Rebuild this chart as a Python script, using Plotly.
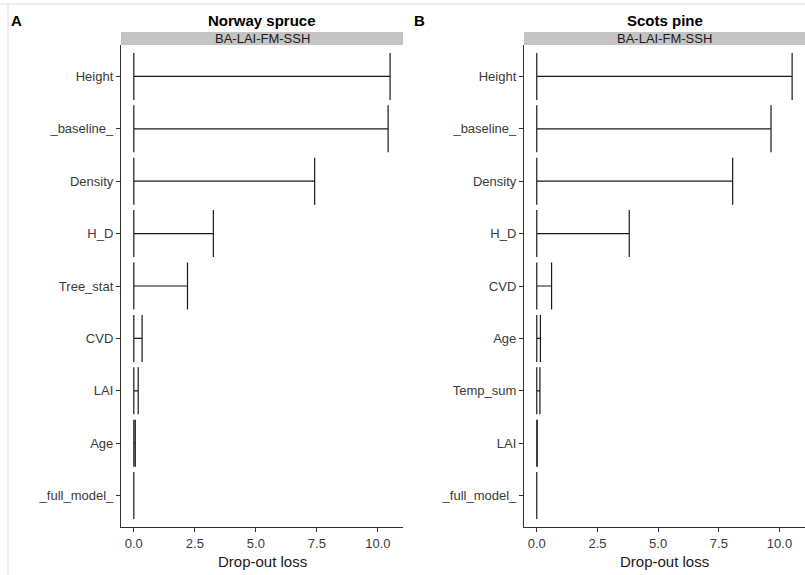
import plotly.graph_objects as go

W, H = 805, 575

# ---- data ----
spruce_vars = ["Height", "_baseline_", "Density", "H_D", "Tree_stat", "CVD", "LAI", "Age", "_full_model_"]
spruce_loss = [10.50, 10.42, 7.41, 3.26, 2.20, 0.34, 0.18, 0.06, 0.0]

pine_vars = ["Height", "_baseline_", "Density", "H_D", "CVD", "Age", "Temp_sum", "LAI", "_full_model_"]
pine_loss = [10.52, 9.65, 8.07, 3.81, 0.61, 0.15, 0.13, 0.02, 0.0]

panel_titles = ["Norway spruce", "Scots pine"]
panel_tags = ["A", "B"]
strip_label = "BA-LAI-FM-SSH"
x_ticks = [0.0, 2.5, 5.0, 7.5, 10.0]
x_title = "Drop-out loss"


def px_x(x):
    return x / W


def px_y(y):
    return 1 - y / H


fig = go.Figure()

panels = [
    dict(vars=spruce_vars, loss=spruce_loss, xa="x", ya="y", dom=(121, 403), xr=[-0.525, 11.03]),
    dict(vars=pine_vars, loss=pine_loss, xa="x2", ya="y2", dom=(524, 805), xr=[-0.526, 11.05]),
]

ydom = [px_y(527), px_y(45)]
line_col = "#1a1a1a"
txt_col = "#3a3a3a"
font_family = "Liberation Sans, Arial, sans-serif"

for i, p in enumerate(panels):
    fig.add_trace(go.Scatter(
        x=[0] * len(p["loss"]),
        y=p["vars"],
        mode="markers",
        marker=dict(size=1, color="rgba(0,0,0,0)"),
        error_x=dict(type="data", array=p["loss"], arrayminus=[0] * len(p["loss"]),
                     symmetric=False, color=line_col, thickness=1.2, width=23.5),
        xaxis=p["xa"], yaxis=p["ya"], showlegend=False, hoverinfo="skip",
    ))

    xkey = "xaxis" if i == 0 else "xaxis2"
    ykey = "yaxis" if i == 0 else "yaxis2"
    fig.update_layout(**{
        xkey: dict(
            domain=[px_x(p["dom"][0]), px_x(p["dom"][1])],
            range=p["xr"], tickvals=x_ticks, ticktext=[f"{v:.1f}" for v in x_ticks],
            showgrid=False, zeroline=False, showline=True, linecolor="#333333", linewidth=1.2,
            ticks="outside", ticklen=4, tickcolor="#333333", tickwidth=1.1,
            tickfont=dict(size=13, color=txt_col, family=font_family),
            anchor=p["ya"], automargin=False,
        ),
        ykey: dict(
            domain=ydom, type="category",
            categoryorder="array", categoryarray=list(reversed(p["vars"])),
            range=[-0.6, len(p["vars"]) - 0.4],
            showgrid=False, zeroline=False, showline=True, linecolor="#333333", linewidth=1.2,
            ticks="outside", ticklen=4, tickcolor="#333333", tickwidth=1.1,
            tickfont=dict(size=13, color=txt_col, family=font_family),
            anchor=p["xa"], automargin=False,
        ),
    })

    x0, x1 = px_x(p["dom"][0]), px_x(p["dom"][1])
    # strip
    fig.add_shape(type="rect", xref="paper", yref="paper", x0=x0, x1=x1,
                  y0=px_y(45), y1=px_y(32), fillcolor="#c4c4c4", line=dict(width=0), layer="below")
    fig.add_annotation(xref="paper", yref="paper", x=(x0 + x1) / 2, y=px_y(38.5),
                       text=strip_label, showarrow=False, xanchor="center", yanchor="middle",
                       font=dict(size=13, color="#1a1a1a", family=font_family))
    # panel title
    fig.add_annotation(xref="paper", yref="paper", x=(x0 + x1) / 2, y=px_y(20),
                       text=f"<b>{panel_titles[i]}</b>", showarrow=False, xanchor="center", yanchor="middle",
                       font=dict(size=15, color="#000000", family=font_family))
    # x-axis title
    fig.add_annotation(xref="paper", yref="paper", x=(x0 + x1) / 2, y=px_y(561),
                       text=x_title, showarrow=False, xanchor="center", yanchor="middle",
                       font=dict(size=15, color="#1a1a1a", family=font_family))

# panel tags
fig.add_annotation(xref="paper", yref="paper", x=px_x(9), y=px_y(21), text="<b>A</b>",
                   showarrow=False, xanchor="left", yanchor="middle",
                   font=dict(size=15, color="#000000", family=font_family))
fig.add_annotation(xref="paper", yref="paper", x=px_x(412), y=px_y(21), text="<b>B</b>",
                   showarrow=False, xanchor="left", yanchor="middle",
                   font=dict(size=15, color="#000000", family=font_family))

# faint frame lines
fig.add_shape(type="line", xref="paper", yref="paper", x0=0, x1=1, y0=px_y(4), y1=px_y(4),
              line=dict(color="#dcdcdc", width=1))
fig.add_shape(type="line", xref="paper", yref="paper", x0=px_x(8), x1=px_x(8), y0=0, y1=px_y(4),
              line=dict(color="#dcdcdc", width=1))

fig.update_layout(
    width=W, height=H,
    margin=dict(l=0, r=0, t=0, b=0, pad=0),
    paper_bgcolor="white", plot_bgcolor="white",
    font=dict(family=font_family),
)

fig.write_html(
    "out.html",
    config={"displayModeBar": False},
    post_script="document.body.style.margin='0px';document.body.style.overflow='hidden';",
)
